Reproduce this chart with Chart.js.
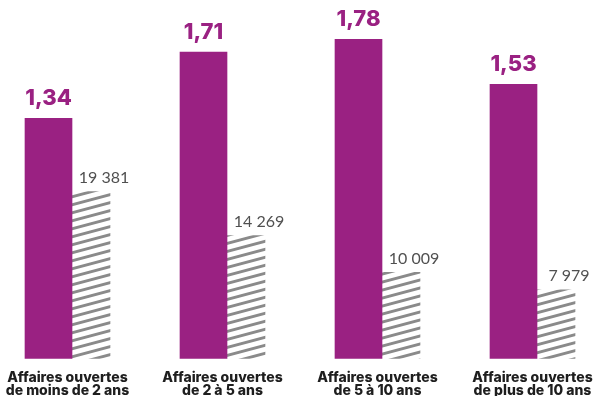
<!DOCTYPE html>
<html lang="fr">
<head>
<meta charset="utf-8">
<script src="https://cdn.jsdelivr.net/npm/chart.js@4/dist/chart.umd.min.js"></script>
<style>
  html, body { margin: 0; padding: 0; background: #fff; }
  #wrap { width: 598px; height: 396px; }
</style>
</head>
<body>
<div id="wrap"><canvas id="chart"></canvas></div>
<script>
const categories = [
    ['Affaires ouvertes', 'de moins de 2 ans'],
    ['Affaires ouvertes', 'de 2 à 5 ans'],
    ['Affaires ouvertes', 'de 5 à 10 ans'],
    ['Affaires ouvertes', 'de plus de 10 ans']
];
const ratios = [1.34, 1.71, 1.78, 1.53];
const counts = [19381, 14269, 10009, 7979];

const PURPLE = '#9a2182';

// diagonal grey stripes for the count bars
function makeHatch() {
    const tile = document.createElement('canvas');
    tile.width = 30;
    tile.height = 8;
    const g = tile.getContext('2d');
    g.fillStyle = '#fff';
    g.fillRect(0, 0, 30, 8);
    g.strokeStyle = '#8a8a8a';
    g.lineWidth = 2.9;
    for (const dy of [-8, 0, 8]) {
        g.beginPath();
        g.moveTo(-1, 8 + dy + 0.27);
        g.lineTo(31, dy - 0.27);
        g.stroke();
    }
    return g.createPattern(tile, 'repeat');
}

const fmtRatio = v => v.toFixed(2).replace('.', ',');
const fmtCount = v => String(v).replace(/\B(?=(\d{3})+(?!\d))/g, ' ');

const valueLabels = {
    id: 'valueLabels',
    afterDatasetsDraw(chart) {
        const ctx = chart.ctx;
        ctx.save();
        ctx.textAlign = 'center';
        ctx.textBaseline = 'alphabetic';
        chart.data.datasets.forEach((ds, i) => {
            const meta = chart.getDatasetMeta(i);
            meta.data.forEach((bar, j) => {
                if (i === 0) {
                    ctx.font = '800 22px Inter';
                    ctx.fillStyle = PURPLE;
                    ctx.fillText(fmtRatio(ds.data[j]), bar.x, bar.y - 13);
                } else {
                    ctx.font = '16px Lato';
                    ctx.fillStyle = '#505050';
                    ctx.fillText(fmtCount(ds.data[j]), bar.x + 13, bar.y - 8.5);
                }
            });
        });

        // category names under each pair of bars
        const x = chart.scales.x;
        ctx.font = '800 14px Inter';
        ctx.fillStyle = '#1e1e1e';
        categories.forEach((lines, j) => {
            const cx = x.getPixelForValue(j) - 4.5;
            lines.forEach((line, k) => ctx.fillText(line, cx, 381.5 + k * 13));
        });
        ctx.restore();
    }
};

new Chart(document.getElementById('chart'), {
    type: 'bar',
    data: {
        labels: categories,
        datasets: [{
            data: ratios,
            backgroundColor: PURPLE,
            barThickness: 47,
            clip: false,
            yAxisID: 'y'
        }, {
            data: counts,
            backgroundColor: makeHatch(),
            barThickness: 38,
            clip: false,
            yAxisID: 'y2'
        }]
    },
    options: {
        responsive: true,
        maintainAspectRatio: false,
        animation: false,
        layout: { padding: { left: 72, right: 61, top: 0, bottom: 37.5 } },
        plugins: {
            legend: { display: false },
            tooltip: { enabled: false }
        },
        scales: {
            x: { display: false, offset: false },
            y: { display: false, min: 0, max: 2 },
            y2: { display: false, min: 0, max: 41600 }
        }
    },
    plugins: [valueLabels]
});
</script>
</body>
</html>
